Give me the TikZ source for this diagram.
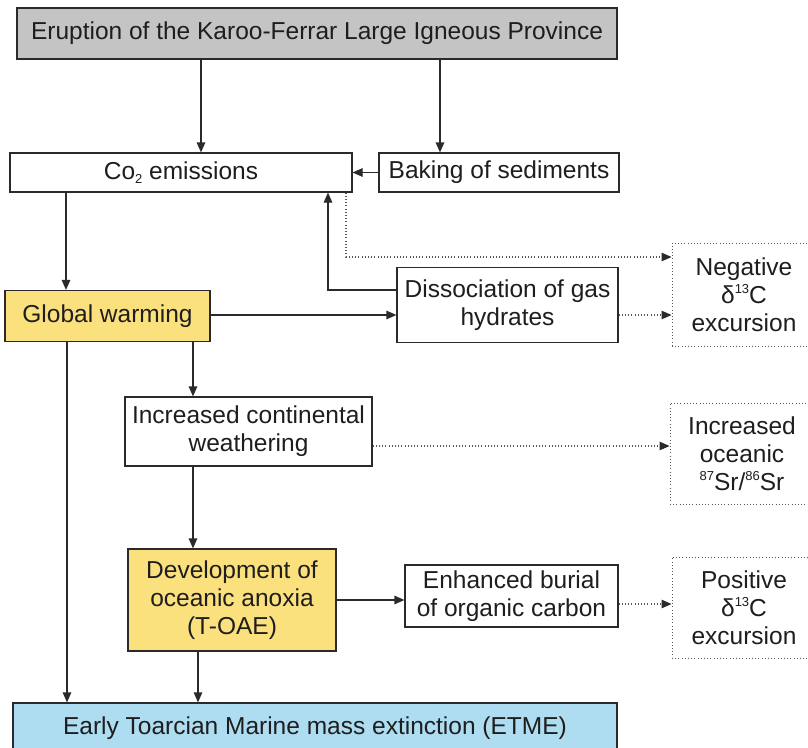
\documentclass[tikz,border=0pt]{standalone}
\usepackage{fontspec}
\setmainfont{Liberation Sans}
\usetikzlibrary{arrows.meta,calc}
\definecolor{txt}{HTML}{1E1E1E}
\definecolor{linec}{HTML}{2A2A2A}
\definecolor{grayfill}{HTML}{C4C4C4}
\definecolor{yellowfill}{HTML}{FBE07E}
\definecolor{bluefill}{HTML}{AEDDF2}
\definecolor{dotc}{HTML}{555555}
\newcommand\upidx[1]{\raisebox{0.38em}{\fontsize{13}{13}\selectfont #1}}
\newcommand\lowidx[1]{\raisebox{-0.15em}{\fontsize{13}{13}\selectfont #1}}
\tikzset{
  box/.style={draw=linec, line width=1.2pt, inner sep=0pt, align=center,
    font=\fontsize{24.5}{28}\selectfont, text=txt},
  dbox/.style={box, draw=dotc, line width=1pt, dash pattern=on 1pt off 2.2pt},
  arr/.style={draw=linec, line width=1.2pt, -{Triangle[length=10pt,width=8.5pt]}},
  darr/.style={draw=dotc, line width=1.1pt, dash pattern=on 1pt off 2.2pt,
    -{Triangle[length=10pt,width=8.5pt,fill=linec,color=linec]}},
}
\begin{document}
\begin{tikzpicture}[x=1pt,y=-1pt]
\useasboundingbox (0,0) rectangle (808,747);
\fill[white] (0,0) rectangle (808,747);
\clip (0,0) rectangle (808,747);

% boxes
\node[box, fill=grayfill, minimum width=600pt, minimum height=51pt] (erupt) at (317,33.5)
  {Eruption of the Karoo-Ferrar Large Igneous Province};
\node[box, minimum width=342pt, minimum height=39pt] (co2) at (181,172.5)
  {Co\lowidx{2} emissions};
\node[box, minimum width=240pt, minimum height=39pt] (bake) at (499,172.5)
  {Baking of sediments};
\node[box, fill=yellowfill, minimum width=205pt, minimum height=51pt] (warm) at (107.5,316)
  {Global warming};
\node[box, minimum width=221pt, minimum height=75pt] (diss) at (507.5,305)
  {Dissociation of gas\\hydrates};
\node[dbox, minimum width=144pt, minimum height=103pt] (neg) at (744,294.5)
  {Negative\\δ\upidx{13}C\\excursion};
\node[box, minimum width=247pt, minimum height=69pt] (cont) at (248.5,431.5)
  {Increased continental\\weathering};
\node[dbox, minimum width=144pt, minimum height=101pt] (sr) at (742,453.5)
  {Increased\\oceanic\\\upidx{87}Sr/\upidx{86}Sr};
\node[box, fill=yellowfill, minimum width=208pt, minimum height=102pt] (dev) at (232,600)
  {Development of\\oceanic anoxia\\(T-OAE)};
\node[box, minimum width=213pt, minimum height=62pt] (bur) at (511.5,596)
  {Enhanced burial\\of organic carbon};
\node[dbox, minimum width=144pt, minimum height=101pt] (pos) at (744,607.5)
  {Positive\\δ\upidx{13}C\\excursion};
\node[box, fill=bluefill, minimum width=604pt, minimum height=50pt] (etme) at (315,728)
  {Early Toarcian Marine mass extinction (ETME)};

% helper coordinates
\coordinate (e1) at (201,0);
\coordinate (e2) at (440,0);
\coordinate (wx) at (66,0);
\coordinate (gx) at (67,0);
\coordinate (cx) at (193,0);
\coordinate (dx) at (198,0);
\coordinate (ux) at (328,0);
\coordinate (uy) at (0,290);
\coordinate (px) at (346,0);
\coordinate (py) at (0,257);
\coordinate (hy) at (0,315);
\coordinate (sy) at (0,446);
\coordinate (by) at (0,604);

% solid arrows
\draw[arr] (e1 |- erupt.south) -- (e1 |- co2.north);
\draw[arr] (e2 |- erupt.south) -- (e2 |- bake.north);
\draw[arr] (bake.west) -- (co2.east);
\draw[arr] (wx |- co2.south) -- (wx |- warm.north);
\draw[arr] (warm.east |- hy) -- (diss.west |- hy);
\draw[arr] (diss.west |- uy) -- (ux |- uy) -- (ux |- co2.south);
\draw[arr] (cx |- warm.south) -- (cx |- cont.north);
\draw[arr] (cx |- cont.south) -- (cx |- dev.north);
\draw[arr] (dev.east) -- (bur.west |- dev.east);
\draw[arr] (dx |- dev.south) -- (dx |- etme.north);
\draw[arr] (gx |- warm.south) -- (gx |- etme.north);

% dotted arrows
\draw[darr] (px |- co2.south) -- (px |- py) -- (neg.west |- py);
\draw[darr] (diss.east |- hy) -- (neg.west |- hy);
\draw[darr] (cont.east |- sy) -- (sr.west |- sy);
\draw[darr] (bur.east |- by) -- (pos.west |- by);
\end{tikzpicture}
\end{document}
